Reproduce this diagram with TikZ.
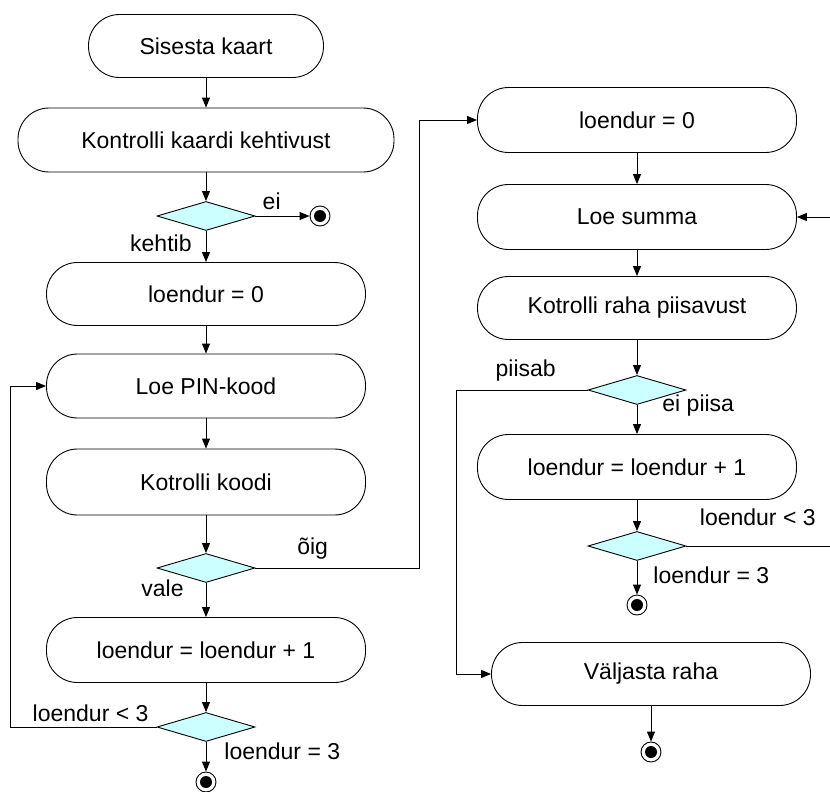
\documentclass[tikz,border=0pt]{standalone}
\usepackage{fontspec}
\setmainfont{Liberation Sans}
\usetikzlibrary{shapes.geometric,arrows.meta}
\definecolor{condcyan}{HTML}{CCFFFF}
\begin{document}
\begin{tikzpicture}[x=1pt,y=-1pt,
  box/.style={draw, rectangle, rounded corners=31pt, minimum width=319pt, minimum height=64pt, line width=0.9pt, font=\fontsize{23}{27}\selectfont},
  cond/.style={draw, diamond, fill=condcyan, minimum width=98pt, minimum height=29pt, inner sep=0pt, line width=0.9pt},
  stopdot/.style={circle, draw, minimum size=20pt, inner sep=0pt, line width=0.9pt, path picture={\fill[black] (path picture bounding box.center) circle (6pt);}},
  lbl/.style={font=\fontsize{23}{27}\selectfont, inner sep=2pt},
  arr/.style={-{Triangle[length=10pt,width=8pt]}, line width=0.9pt}]

%page frame
\clip (0,0) rectangle (830,792);

%left column
\node[box, minimum width=235pt, minimum height=63pt] (insert) at (206,46) {Sisesta kaart};
\node[box, minimum width=376pt] (cardcheck) at (206,140) {Kontrolli kaardi kehtivust};
\node[cond] (cardok) at (206,216) {};
\node[stopdot] (stopcard) at (320,216) {};
\node[box, minimum height=63pt] (zeropin) at (206,294) {loendur = 0};
\node[box] (readpin) at (206,386) {Loe PIN-kood};
\node[box, minimum height=66pt] (pincheck) at (206,482) {Kotrolli koodi};
\node[cond] (pinok) at (206,568) {};
\node[box, minimum height=65pt] (incpin) at (206,650) {loendur = loendur + 1};
\node[cond] (pinleft) at (206,727) {};
\node[stopdot] (stoppin) at (206,782) {};

%right column
\node[box, minimum height=65pt] (zerosum) at (637,120) {loendur = 0};
\node[box, minimum height=65pt] (readsum) at (637,217) {Loe summa};
\node[box, minimum height=63pt] (sumcheck) at (637,308) {Kotrolli raha piisavust};
\node[cond] (sumok) at (637,390) {};
\node[box, minimum height=65pt] (incsum) at (637,467) {loendur = loendur + 1};
\node[cond] (sumleft) at (637,546) {};
\node[stopdot] (stopsum) at (637,605) {};
\node[box, minimum height=63pt] (payout) at (651,674) {V\"aljasta raha};
\node[stopdot] (stoppay) at (651,752) {};

%bend points
\coordinate (okturn) at (419,568);
\coordinate (pinloop) at (10,727);
\coordinate (payturn) at (456,390);
\coordinate (sumloop) at (845,546);

%connectors
\draw[arr] (insert) -- (cardcheck);
\draw[arr] (cardcheck) -- (cardok);
\draw[arr] (cardok.east) -- node[lbl, pos=0.3, above=4pt] {ei} (stopcard);
\draw[arr] (cardok) -- node[lbl, pos=0.4, left=12pt] {kehtib} (zeropin);
\draw[arr] (zeropin) -- (readpin);
\draw[arr] (readpin) -- (pincheck);
\draw[arr] (pincheck) -- (pinok);
\draw[arr] (pinok.east) -- node[lbl, pos=0.35, above=6pt] {õig} (okturn) |- (zerosum.west);
\draw[arr] (pinok) -- node[lbl, pos=0.17, left=20pt] {vale} (incpin);
\draw[arr] (incpin) -- (pinleft);
\draw[arr] (pinleft.west) -- node[lbl, pos=0.45, above=3pt] {loendur < 3} (pinloop) |- (readpin.west);
\draw[arr] (pinleft) -- node[lbl, pos=0.3, right=16pt] {loendur = 3} (stoppin);

\draw[arr] (zerosum) -- (readsum);
\draw[arr] (readsum) -- (sumcheck);
\draw[arr] (sumcheck) -- (sumok);
\draw[arr] (sumok.west) -- node[lbl, pos=0.47, above=6pt] {piisab} (payturn) |- (payout.west);
\draw[arr] (sumok) -- node[lbl, pos=0.02, right=23pt] {ei piisa} (incsum);
\draw[arr] (incsum) -- (sumleft);
\draw[arr] (sumleft.east) -- node[lbl, pos=0.45, above=18pt] {loendur < 3} (sumloop) |- (readsum.east);
\draw[arr] (sumleft) -- node[lbl, pos=0.43, right=14pt] {loendur = 3} (stopsum);
\draw[arr] (payout) -- (stoppay);
\end{tikzpicture}
\end{document}
